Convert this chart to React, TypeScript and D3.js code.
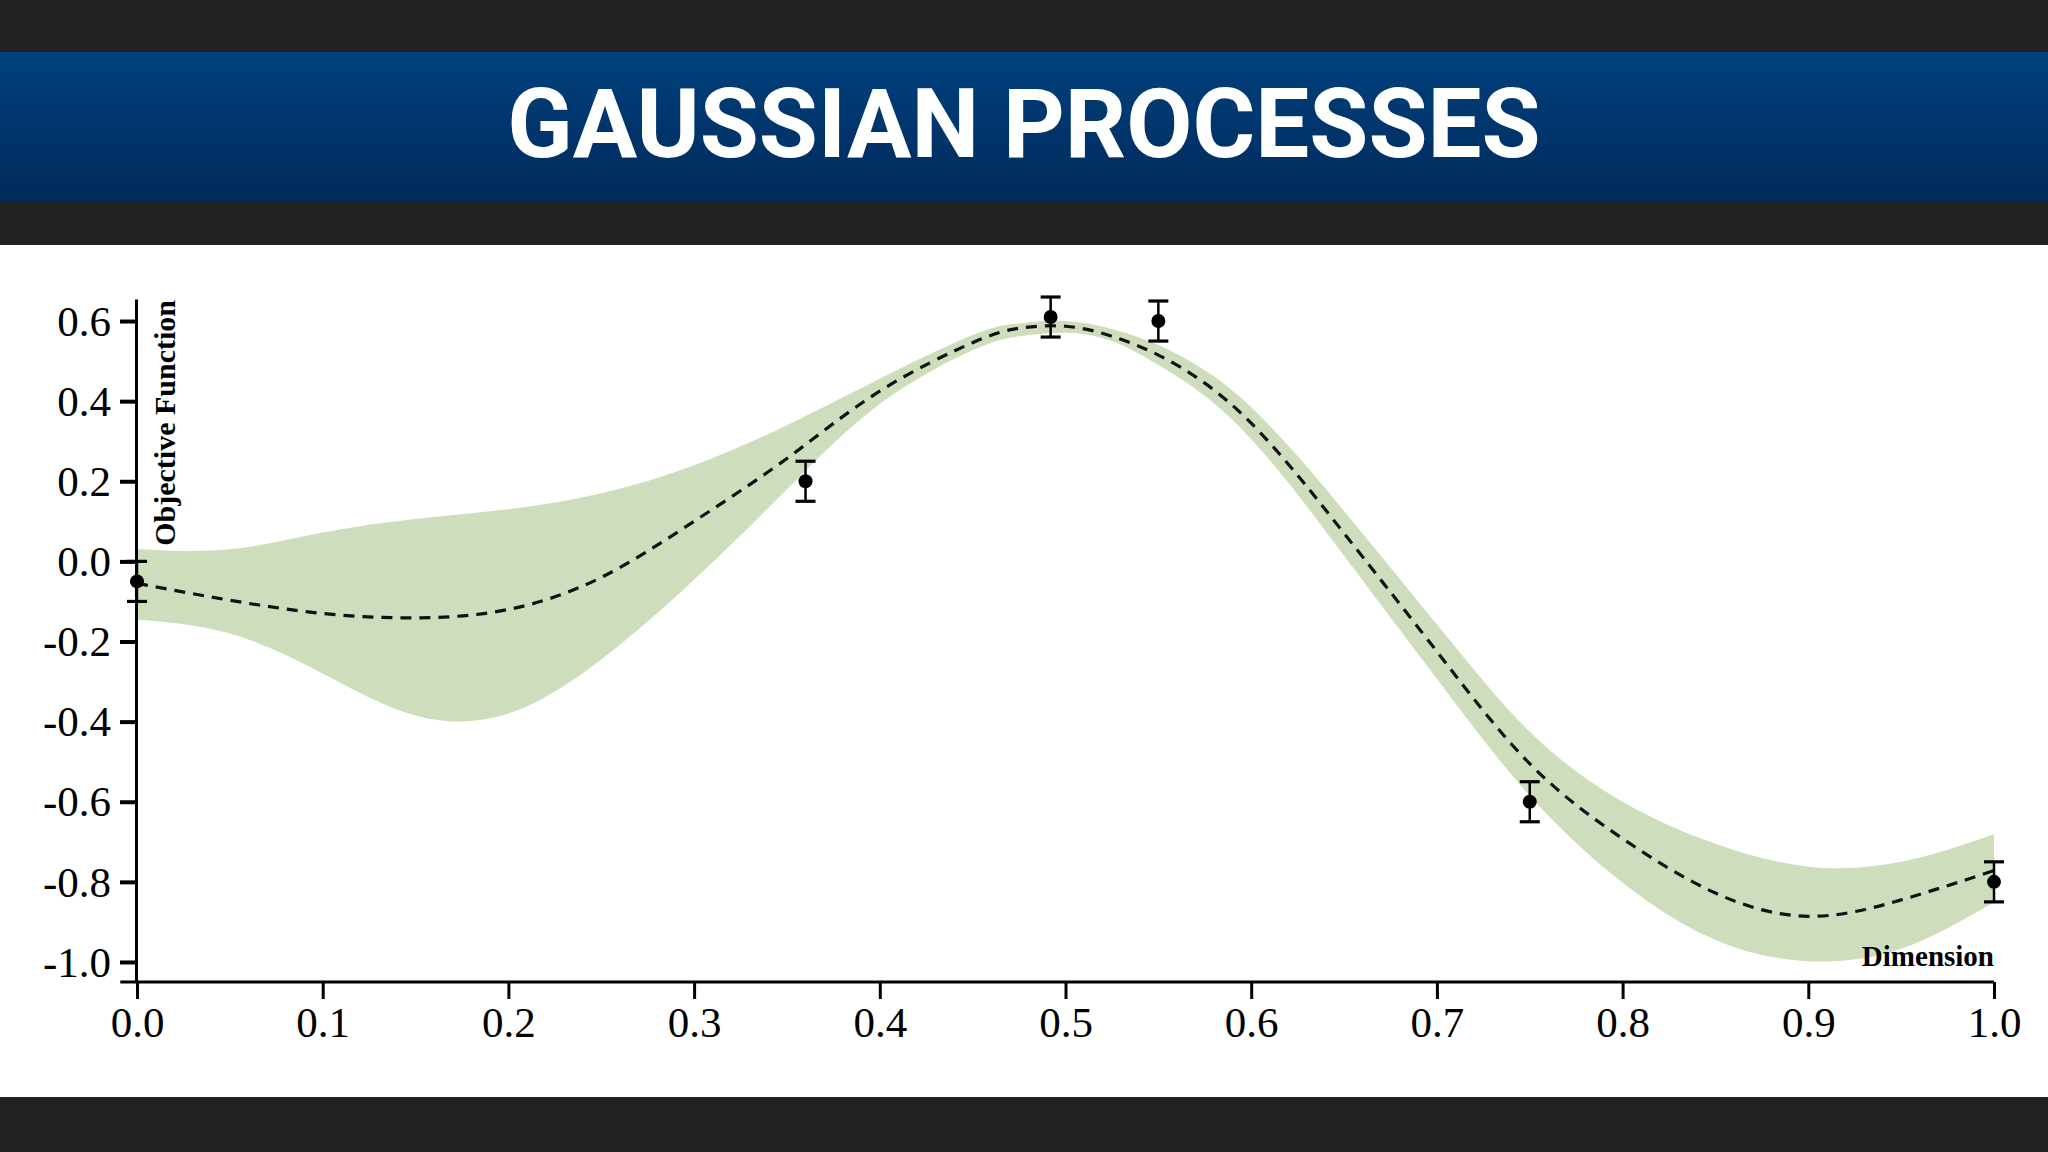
import React, { useEffect, useRef } from 'react';
import * as d3 from 'd3';

// GP posterior
const gridX = [0, 0.05, 0.1, 0.15, 0.2, 0.25, 0.3, 0.35, 0.4, 0.45, 0.475, 0.5, 0.525, 0.55, 0.575, 0.6, 0.625, 0.65, 0.7, 0.75, 0.8, 0.85, 0.9, 0.95, 1.0];
const meanY = [-0.055, -0.097, -0.13, -0.141, -0.12, -0.04, 0.1, 0.257, 0.425, 0.546, 0.582, 0.587, 0.562, 0.515, 0.445, 0.345, 0.215, 0.07, -0.225, -0.505, -0.692, -0.828, -0.886, -0.845, -0.772];
const upperY = [0.031, 0.03, 0.072, 0.106, 0.13, 0.17, 0.24, 0.34, 0.456, 0.565, 0.594, 0.6, 0.58, 0.54, 0.477, 0.385, 0.263, 0.126, -0.157, -0.425, -0.6, -0.705, -0.762, -0.75, -0.681];
const lowerY = [-0.145, -0.18, -0.28, -0.385, -0.38, -0.245, -0.046, 0.18, 0.393, 0.527, 0.562, 0.571, 0.55, 0.49, 0.413, 0.305, 0.167, 0.014, -0.293, -0.585, -0.802, -0.945, -0.998, -0.967, -0.851];

// observations with error bars
const obsX = [0.0, 0.36, 0.492, 0.55, 0.75, 1.0];
const obsY = [-0.05, 0.2, 0.61, 0.6, -0.6, -0.8];
const obsErr = [0.05, 0.05, 0.05, 0.05, 0.05, 0.05];

const xTicks = [0, 0.1, 0.2, 0.3, 0.4, 0.5, 0.6, 0.7, 0.8, 0.9, 1.0];
const yTicks = [0.6, 0.4, 0.2, 0.0, -0.2, -0.4, -0.6, -0.8, -1.0];

const W = 2048;
const H = 1152;

const App: React.FC = () => {
  const svgRef = useRef<SVGSVGElement>(null);

  useEffect(() => {
    document.body.style.margin = '0';
    if (!svgRef.current) return;

    const svg = d3.select(svgRef.current);
    svg.selectAll('*').remove();

    // background bands
    const defs = svg.append('defs');
    const grad = defs.append('linearGradient')
      .attr('id', 'titleGrad')
      .attr('x1', 0).attr('y1', 0).attr('x2', 0).attr('y2', 1);
    grad.append('stop').attr('offset', '0%').attr('stop-color', '#00417e');
    grad.append('stop').attr('offset', '100%').attr('stop-color', '#002a5b');

    svg.append('rect').attr('x', 0).attr('y', 0).attr('width', W).attr('height', H).attr('fill', '#222222');
    svg.append('rect').attr('x', 0).attr('y', 52).attr('width', W).attr('height', 150).attr('fill', 'url(#titleGrad)');
    svg.append('rect').attr('x', 0).attr('y', 245).attr('width', W).attr('height', 852).attr('fill', '#ffffff');

    svg.append('text')
      .attr('x', W / 2)
      .attr('y', 157)
      .attr('text-anchor', 'middle')
      .attr('font-family', 'Roboto, "Noto Sans", sans-serif')
      .attr('font-weight', 700)
      .attr('font-size', 96)
      .attr('fill', '#ffffff')
      .text('GAUSSIAN PROCESSES');

    const x = d3.scaleLinear().domain([0, 1]).range([137, 1994]);
    const y = d3.scaleLinear().domain([-1.05, 0.655]).range([982, 299]);

    const g = svg.append('g');
    const serif = '"Liberation Serif", "Times New Roman", "DejaVu Serif", serif';

    // confidence band
    const band = d3.area<number>()
      .x(i => x(gridX[i]))
      .y0(i => y(lowerY[i]))
      .y1(i => y(upperY[i]))
      .curve(d3.curveNatural);

    g.append('path')
      .attr('d', band(d3.range(gridX.length)))
      .attr('fill', '#cedebd');

    // mean prediction
    const line = d3.line<number>()
      .x(i => x(gridX[i]))
      .y(i => y(meanY[i]))
      .curve(d3.curveNatural);

    g.append('path')
      .attr('d', line(d3.range(gridX.length)))
      .attr('fill', 'none')
      .attr('stroke', '#111')
      .attr('stroke-width', 3.2)
      .attr('stroke-dasharray', '11 8');

    // axes
    const yAxis = d3.axisLeft(y)
      .tickValues(yTicks)
      .tickSize(16)
      .tickSizeOuter(0)
      .tickPadding(9)
      .tickFormat(d => (d as number).toFixed(1));

    const ya = g.append('g').attr('transform', `translate(${x(0) - 1},0)`).call(yAxis);
    ya.select('.domain').attr('stroke', '#000').attr('stroke-width', 3);
    ya.selectAll('.tick line').attr('stroke', '#000').attr('stroke-width', 4);
    ya.selectAll('.tick text')
      .attr('font-family', serif)
      .attr('font-size', 43)
      .attr('fill', '#000')
      .attr('dy', '0.33em');

    const xAxis = d3.axisBottom(x)
      .tickValues(xTicks)
      .tickSize(17)
      .tickSizeOuter(0)
      .tickPadding(7)
      .tickFormat(d => (d as number).toFixed(1));

    const xa = g.append('g').attr('transform', `translate(0,${y(-1.05)})`).call(xAxis);
    xa.select('.domain').remove();
    xa.append('line')
      .attr('x1', x(-0.009)).attr('x2', x(1))
      .attr('stroke', '#000').attr('stroke-width', 3);
    xa.selectAll('.tick line').attr('stroke', '#000').attr('stroke-width', 3);
    xa.selectAll('.tick text')
      .attr('font-family', serif)
      .attr('font-size', 43)
      .attr('fill', '#000')
      .attr('dy', '0.72em');

    // axis titles
    g.append('text')
      .attr('transform', `translate(${x(0) + 38},${y(0.655) + 1}) rotate(-90)`)
      .attr('text-anchor', 'end')
      .attr('font-family', serif)
      .attr('font-weight', 700)
      .attr('font-size', 30)
      .attr('fill', '#000')
      .text('Objective Function');

    g.append('text')
      .attr('x', x(1))
      .attr('y', y(-1.05) - 16)
      .attr('text-anchor', 'end')
      .attr('font-family', serif)
      .attr('font-weight', 700)
      .attr('font-size', 29)
      .attr('fill', '#000')
      .text('Dimension');

    // observations
    const obs = g.selectAll('.obs')
      .data(d3.range(obsX.length))
      .enter().append('g')
      .attr('class', 'obs')
      .attr('transform', i => `translate(${x(obsX[i])},0)`);

    obs.append('line')
      .attr('y1', i => y(obsY[i] - obsErr[i]))
      .attr('y2', i => y(obsY[i] + obsErr[i]))
      .attr('stroke', '#000').attr('stroke-width', 2.5);
    obs.append('line')
      .attr('x1', -10).attr('x2', 10)
      .attr('y1', i => y(obsY[i] + obsErr[i]))
      .attr('y2', i => y(obsY[i] + obsErr[i]))
      .attr('stroke', '#000').attr('stroke-width', 3.2);
    obs.append('line')
      .attr('x1', -10).attr('x2', 10)
      .attr('y1', i => y(obsY[i] - obsErr[i]))
      .attr('y2', i => y(obsY[i] - obsErr[i]))
      .attr('stroke', '#000').attr('stroke-width', 3.2);
    obs.append('circle')
      .attr('cy', i => y(obsY[i]))
      .attr('r', 7)
      .attr('fill', '#000');
  }, []);

  return <svg ref={svgRef} width={W} height={H} style={{ display: 'block' }} />;
};

export default App;
